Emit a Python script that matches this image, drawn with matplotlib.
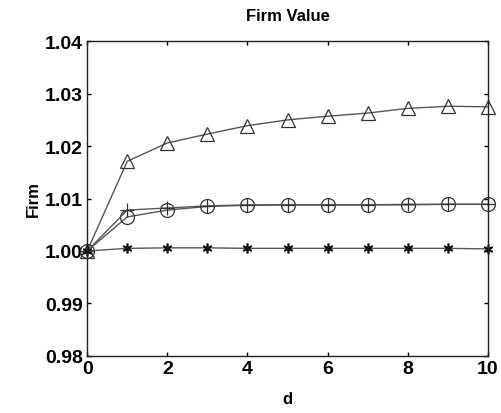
import matplotlib
matplotlib.use("Agg")
import matplotlib.pyplot as plt

plt.rcParams["font.family"] = ["Liberation Sans", "DejaVu Sans"]

d = list(range(11))
firm_tri = [1.0000, 1.0171, 1.0206, 1.0223, 1.0239, 1.0250, 1.0257, 1.0263, 1.0272, 1.0276, 1.0275]
firm_circ = [1.0000, 1.0065, 1.0078, 1.0085, 1.0087, 1.0088, 1.0088, 1.0088, 1.0088, 1.0089, 1.0089]
firm_plus = [1.0000, 1.0078, 1.0082, 1.0086, 1.0088, 1.0088, 1.0088, 1.0088, 1.0089, 1.0089, 1.0089]
firm_star = [1.0000, 1.0005, 1.0006, 1.0006, 1.0005, 1.0005, 1.0005, 1.0005, 1.0005, 1.0005, 1.0004]

xticks = [0, 2, 4, 6, 8, 10]
yticks = [0.98, 0.99, 1.00, 1.01, 1.02, 1.03, 1.04]
ytick_labels = ["0.98", "0.99", "1.00", "1.01", "1.02", "1.03", "1.04"]

fig = plt.figure(figsize=(5.01, 4.14), dpi=100)
ax = fig.add_axes([0.174, 0.138, 0.800, 0.760])

col = "#555555"
ax.plot(d, firm_tri, color=col, lw=1.0, marker="^", ms=10, mfc="none", mec="#333333", mew=0.9, clip_on=False)
ax.plot(d, firm_circ, color=col, lw=1.0, marker="o", ms=10, mfc="none", mec="#333333", mew=0.9, clip_on=False)
ax.plot(d, firm_plus, color=col, lw=1.0, marker="+", ms=10, mec="#333333", mew=0.9, clip_on=False)
ax.plot(d, firm_star, color=col, lw=1.0, marker=(6, 2, 0), ms=7, mec="#111111", mew=1.2, clip_on=False)

ax.set_xlim(0, 10)
ax.set_ylim(0.98, 1.04)
ax.set_xticks(xticks)
ax.set_yticks(yticks)
ax.set_yticklabels(ytick_labels)
ax.tick_params(direction="in", top=True, right=True, labelsize=14, length=3, width=1, pad=3)
for lab in ax.get_xticklabels() + ax.get_yticklabels():
    lab.set_fontweight("semibold")
for s in ax.spines.values():
    s.set_linewidth(1.0)
    s.set_color("#222222")

ax.set_title("Firm Value", fontsize=12, fontweight="bold", pad=15)
ax.set_xlabel("d", fontsize=12, fontweight="bold", labelpad=10)
ax.set_ylabel("Firm", fontsize=12, fontweight="bold", labelpad=3)

fig.savefig("out.png", dpi=100)
